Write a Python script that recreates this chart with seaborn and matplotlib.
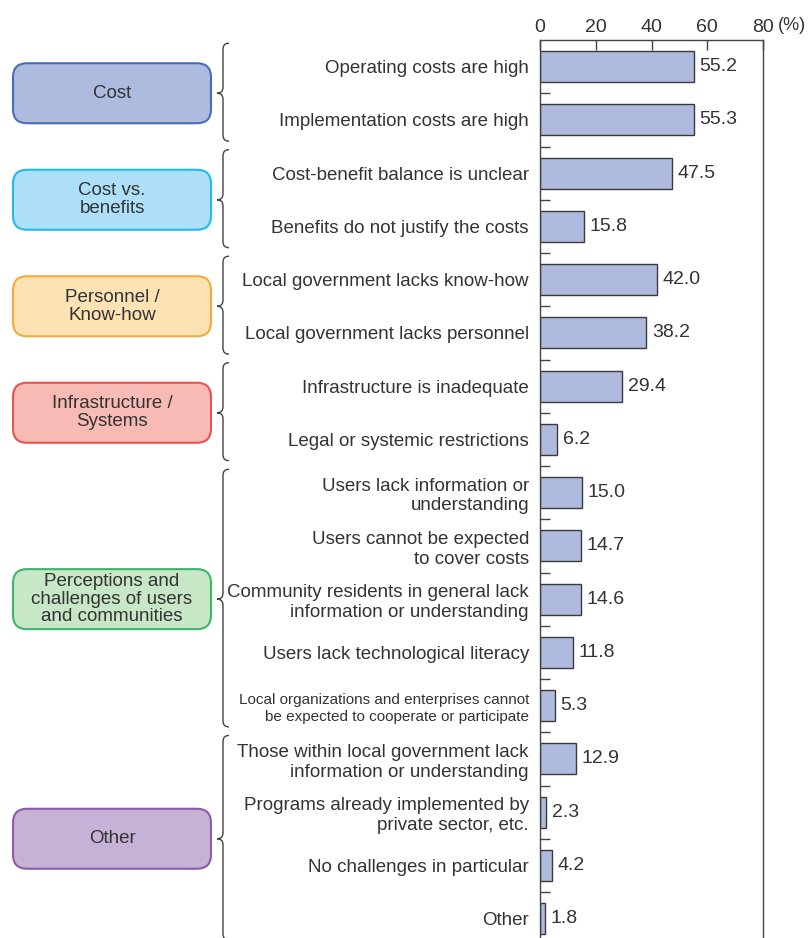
import matplotlib
matplotlib.use('Agg')
import numpy as np
import pandas as pd
import matplotlib.pyplot as plt
import seaborn as sns
from matplotlib.patches import FancyBboxPatch, PathPatch
from matplotlib.path import Path
from matplotlib.transforms import IdentityTransform, blended_transform_factory

# ---------------- data ----------------
categories = [
    "Operating costs are high",
    "Implementation costs are high",
    "Cost-benefit balance is unclear",
    "Benefits do not justify the costs",
    "Local government lacks know-how",
    "Local government lacks personnel",
    "Infrastructure is inadequate",
    "Legal or systemic restrictions",
    "Users lack information or\nunderstanding",
    "Users cannot be expected\nto cover costs",
    "Community residents in general lack\ninformation or understanding",
    "Users lack technological literacy",
    "Local organizations and enterprises cannot\nbe expected to cooperate or participate",
    "Those within local government lack\ninformation or understanding",
    "Programs already implemented by\nprivate sector, etc.",
    "No challenges in particular",
    "Other",
]
values = [55.2, 55.3, 47.5, 15.8, 42.0, 38.2, 29.4, 6.2, 15.0, 14.7, 14.6,
          11.8, 5.3, 12.9, 2.3, 4.2, 1.8]
value_labels = ["55.2", "55.3", "47.5", "15.8", "42.0", "38.2", "29.4", "6.2",
                "15.0", "14.7", "14.6", "11.8", "5.3", "12.9", "2.3", "4.2", "1.8"]
groups = ["Cost", "Cost vs.\nbenefits", "Personnel /\nKnow-how",
          "Infrastructure /\nSystems",
          "Perceptions and\nchallenges of users\nand communities", "Other"]
group_sizes = [2, 2, 2, 2, 5, 4]
group_fill = ["#aebbdf", "#aee1f9", "#fde2b4", "#f7bab4", "#c7e7c6", "#c6b1d7"]
group_edge = ["#4a6cb4", "#22baf0", "#f5aa3c", "#e8524f", "#3db56b", "#8c5aa9"]
x_ticks = [0, 20, 40, 60, 80]
x_tick_labels = ["0", "20", "40", "60", "80"]

bar_color = "#aebbdf"
text_color = "#333333"
line_color = "#444444"

# ---------------- figure ----------------
sns.set_theme(style="white")
plt.rcParams['font.family'] = ['Liberation Sans', 'DejaVu Sans']

W, H = 808, 938
fig = plt.figure(figsize=(W / 100, H / 100), dpi=100)
fig.patch.set_facecolor("white")

n = len(categories)
ax_top, ax_left, ax_right, slot = 40, 540, 763, 53.25
ax_bottom_px = ax_top + n * slot
ax = fig.add_axes([ax_left / W, (H - ax_bottom_px) / H,
                   (ax_right - ax_left) / W, n * slot / H])

df = pd.DataFrame({"category": categories, "value": values})
sns.barplot(data=df, x="value", y="category", order=categories,
            color=bar_color, saturation=1, edgecolor="#3a3a3a",
            linewidth=1, width=0.58, ax=ax)

ax.set_xlim(0, 80)
ax.set_ylim(n - 0.5, -0.5)
ax.set_xlabel("")
ax.set_ylabel("")

# x axis on top
ax.xaxis.tick_top()
ax.set_xticks(x_ticks)
ax.set_xticklabels(x_tick_labels)
ax.tick_params(axis="x", which="major", direction="in", length=7, width=1,
               color=line_color, top=True, bottom=False, labeltop=True,
               labelbottom=False, pad=3, labelsize=14, labelcolor=text_color)

# y axis
ax.set_yticks(range(n))
ax.set_yticklabels(categories)
ax.tick_params(axis="y", which="major", length=0, pad=8, labelsize=13.5,
               labelcolor=text_color, left=False)
ax.set_yticks(np.arange(0.5, n - 1, 1), minor=True)
ax.tick_params(axis="y", which="minor", direction="in", length=7, width=1,
               color=line_color, left=True)
for lab in ax.get_yticklabels():
    lab.set_linespacing(1.22)
    if lab.get_text().startswith("Local organizations"):
        lab.set_fontsize(11)

for sp in ax.spines.values():
    sp.set_visible(True)
    sp.set_color(line_color)
    sp.set_linewidth(1)

ax.bar_label(ax.containers[0], labels=value_labels, padding=4,
             fontsize=14, color=text_color)

fig.text(778 / W, 1 - 25 / H, "(%)", fontsize=13, color=text_color,
         ha="left", va="center")

# ---------------- group braces & boxes ----------------
btrans = blended_transform_factory(fig.transFigure, ax.transData)
xv, xt, xe = 223 / W, 217 / W, 229 / W
r = 6 / slot
start = 0
for gi, size in enumerate(group_sizes):
    s, e = start, start + size - 1
    start += size
    y0 = s - 0.5 + 0.06
    y1 = e + 0.5 - 0.1
    ym = (s + e) / 2
    verts = [(xe, y0), (xv, y0), (xv, y0 + r), (xv, ym - r), (xv, ym), (xt, ym),
             (xv, ym), (xv, ym + r), (xv, y1 - r), (xv, y1), (xe, y1)]
    codes = [Path.MOVETO, Path.CURVE3, Path.CURVE3, Path.LINETO, Path.CURVE3,
             Path.CURVE3, Path.CURVE3, Path.CURVE3, Path.LINETO, Path.CURVE3,
             Path.CURVE3]
    fig.add_artist(PathPatch(Path(verts, codes), transform=btrans,
                             facecolor="none", edgecolor=line_color,
                             linewidth=1, clip_on=False))

    yc = ax.transData.transform((0, ym))[1]
    box = FancyBboxPatch((13, yc - 30), 198, 60,
                         boxstyle="round,pad=0,rounding_size=14",
                         transform=IdentityTransform(),
                         facecolor=group_fill[gi], edgecolor=group_edge[gi],
                         linewidth=1.5, clip_on=False)
    fig.add_artist(box)
    fig.text(112 / W, yc / H, groups[gi], ha="center", va="center",
             fontsize=13.5, color=text_color, linespacing=1.05)

fig.savefig("out.png", dpi=100)
